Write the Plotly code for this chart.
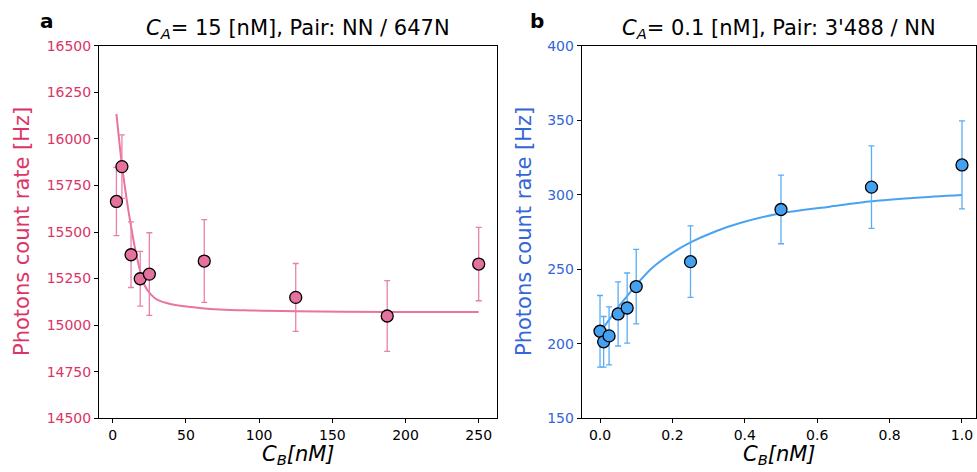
import plotly.graph_objects as go

# ---------------- data ----------------
# Panel a
a_x = [2.5, 6.25, 12.5, 18.75, 25, 62.5, 125, 187.5, 250]
a_y = [15664, 15851, 15378, 15249, 15274, 15344, 15149, 15049, 15328]
a_err = [183, 170, 176, 147, 222, 222, 182, 190, 197]
a_fit_x = [2.5, 6.25, 10, 12.5, 15, 18.75, 22, 26, 30, 40, 62.5, 90, 125, 187.5, 250]
a_fit_y = [16134, 15860, 15650, 15530, 15420, 15290, 15210, 15165, 15138, 15112,
           15090, 15080, 15075, 15071, 15070]
a_yticks = [14500, 14750, 15000, 15250, 15500, 15750, 16000, 16250, 16500]
a_xticks = [0, 50, 100, 150, 200, 250]

# Panel b
b_x = [0, 0.01, 0.025, 0.05, 0.075, 0.1, 0.25, 0.5, 0.75, 1.0]
b_y = [208.4, 201.3, 205.3, 220, 224, 238.4, 255.1, 290.1, 305.1, 320]
b_err = [24, 17, 19.5, 21.5, 23.5, 25, 24, 23, 27.7, 29.5]
b_fit_x = [0, 0.01, 0.025, 0.05, 0.075, 0.1, 0.143, 0.2, 0.25, 0.32, 0.387, 0.5,
           0.635, 0.75, 0.875, 1.0]
b_fit_y = [207, 211, 216, 224.5, 232, 239.5, 250.7, 261, 268, 275.5, 281, 287.6,
           292, 295.6, 298, 299.8]
b_yticks = [150, 200, 250, 300, 350, 400]
b_xticks = [0.0, 0.2, 0.4, 0.6, 0.8, 1.0]

# ---------------- styles ----------------
PINK_MK = "#e4719e"
PINK_LN = "#e8749f"
PINK_ERR = "#ea80aa"
PINK_TXT = "#dc3468"
BLUE_MK = "#45a0f0"
BLUE_LN = "#4aa3f2"
BLUE_ERR = "#5aacf5"
BLUE_TXT = "#3366d6"
FONT = "DejaVu Sans"

fig = go.Figure()

fig.add_trace(go.Scatter(x=a_fit_x, y=a_fit_y, mode="lines", line=dict(color=PINK_LN, width=2, shape="spline", smoothing=0.8),
                         xaxis="x", yaxis="y", showlegend=False, hoverinfo="skip"))
fig.add_trace(go.Scatter(x=a_x, y=a_y, mode="markers",
                         marker=dict(color=PINK_MK, size=12, line=dict(color="black", width=1.3)),
                         error_y=dict(type="data", array=a_err, color=PINK_ERR, thickness=1.3, width=3),
                         xaxis="x", yaxis="y", showlegend=False))

fig.add_trace(go.Scatter(x=b_fit_x, y=b_fit_y, mode="lines", line=dict(color=BLUE_LN, width=2, shape="spline", smoothing=0.8),
                         xaxis="x2", yaxis="y2", showlegend=False, hoverinfo="skip"))
fig.add_trace(go.Scatter(x=b_x, y=b_y, mode="markers",
                         marker=dict(color=BLUE_MK, size=12, line=dict(color="black", width=1.3)),
                         error_y=dict(type="data", array=b_err, color=BLUE_ERR, thickness=1.3, width=3),
                         xaxis="x2", yaxis="y2", showlegend=False))

W, H = 977, 472
ya0, ya1 = (H - 418.3) / H, (H - 45.7) / H
xa = [99 / W, 497 / W]
xb = [581.7 / W, 976 / W]

axis_common = dict(showline=True, linecolor="black", linewidth=1, mirror=True,
                   ticks="outside", ticklen=4, tickwidth=1, tickcolor="black",
                   showgrid=False, zeroline=False, automargin=False)

fig.update_layout(
    width=W, height=H,
    margin=dict(l=0, r=0, t=0, b=0, pad=0, autoexpand=False),
    paper_bgcolor="white", plot_bgcolor="white",
    font=dict(family=FONT, size=14, color="black"),
    xaxis=dict(domain=xa, anchor="y", range=[-9.4, 262.5], tickvals=a_xticks,
               ticktext=[str(v) for v in a_xticks],
               tickfont=dict(size=14, color="black"), **axis_common),
    yaxis=dict(domain=[ya0, ya1], anchor="x", range=[14500, 16500], tickvals=a_yticks,
               ticktext=[str(v) for v in a_yticks],
               tickfont=dict(size=14, color=PINK_TXT), **axis_common),
    xaxis2=dict(domain=xb, anchor="y2", range=[-0.0506, 1.0387], tickvals=b_xticks,
                ticktext=[f"{v:.1f}" for v in b_xticks],
                tickfont=dict(size=14, color="black"), **axis_common),
    yaxis2=dict(domain=[ya0, ya1], anchor="x2", range=[150, 400], tickvals=b_yticks,
                ticktext=[str(v) for v in b_yticks],
                tickfont=dict(size=14, color=BLUE_TXT), **axis_common),
)

def py(pix):
    return (H - pix) / H

def px(pix):
    return pix / W

ann = [
    # panel letters
    dict(x=px(47), y=py(21), text="<b>a</b>", font=dict(size=20)),
    dict(x=px(537), y=py(21), text="<b>b</b>", font=dict(size=20)),
    # titles
    dict(x=px(298), y=py(29), text="<i>C</i><sub><i>A</i></sub>= 15 [nM], Pair: NN / 647N", font=dict(size=21)),
    dict(x=px(779), y=py(29), text="<i>C</i><sub><i>A</i></sub>= 0.1 [nM], Pair: 3'488 / NN", font=dict(size=21)),
    # x axis titles
    dict(x=px(298), y=py(455), text="<i>C</i><sub><i>B</i></sub><i>[nM]</i>", font=dict(size=21)),
    dict(x=px(779), y=py(455), text="<i>C</i><sub><i>B</i></sub><i>[nM]</i>", font=dict(size=21)),
    # y axis titles
    dict(x=px(22), y=py(232), text="Photons count rate [Hz]", textangle=-90, font=dict(size=21, color=PINK_TXT)),
    dict(x=px(524), y=py(232), text="Photons count rate [Hz]", textangle=-90, font=dict(size=21, color=BLUE_TXT)),
]
for a in ann:
    a.update(xref="paper", yref="paper", showarrow=False, xanchor="center", yanchor="middle")
    a.setdefault("font", {})
    a["font"].setdefault("family", FONT)
    a["font"].setdefault("color", "black")
fig.update_layout(annotations=ann)

fig.write_html("out.html")
